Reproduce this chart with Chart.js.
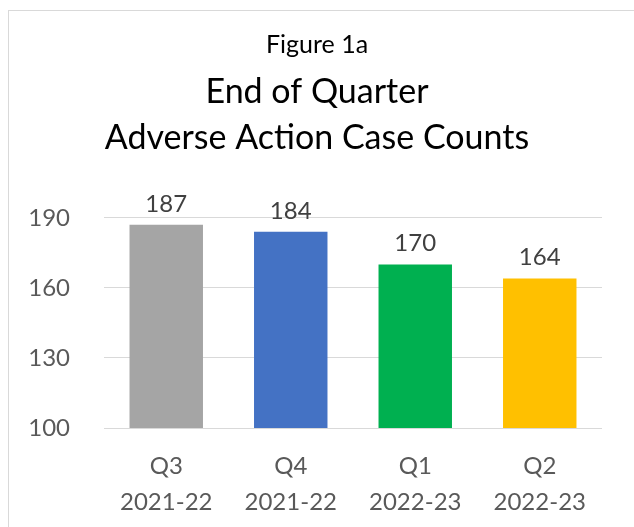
<!DOCTYPE html>
<html lang="en">
  <head>
    <meta charset="UTF-8" />
    <title>Figure 1a</title>
    <script src="https://cdn.jsdelivr.net/npm/chart.js@4.4.0/dist/chart.umd.min.js"></script>
    <style>
      body { margin: 0; background: #fff; }
      #wrap { position: relative; width: 634px; height: 527px; }
      #frame {
        position: absolute; left: 8px; top: 10px; width: 700px; height: 600px;
        border: 1px solid #d9d9d9; pointer-events: none;
      }
    </style>
  </head>
  <body>
    <div id="wrap">
      <canvas id="myChart" width="634" height="527"></canvas>
      <div id="frame"></div>
    </div>
    <script>
      const quarters = [["Q3", "2021-22"], ["Q4", "2021-22"], ["Q1", "2022-23"], ["Q2", "2022-23"]];
      const caseCounts = [187, 184, 170, 164];
      const barColors = ["#A5A5A5", "#4472C4", "#00B050", "#FFC000"];
      const yTicks = [100, 130, 160, 190];

      const FONT = "Lato, 'Open Sans', sans-serif";

      // value labels above each bar
      const barLabels = {
        id: "barLabels",
        afterDatasetsDraw(chart) {
          const c = chart.ctx;
          const meta = chart.getDatasetMeta(0);
          c.save();
          c.font = "24px " + FONT;
          c.fillStyle = "#404040";
          c.textAlign = "center";
          c.textBaseline = "bottom";
          meta.data.forEach((bar, i) => {
            c.fillText(caseCounts[i], bar.x, bar.y - 9);
          });
          c.restore();
        },
      };

      const ctx = document.getElementById("myChart").getContext("2d");
      const myChart = new Chart(ctx, {
        type: "bar",
        data: {
          labels: quarters,
          datasets: [
            {
              data: caseCounts,
              backgroundColor: barColors,
              borderWidth: 0,
              barPercentage: 0.59,
              categoryPercentage: 1,
            },
          ],
        },
        plugins: [barLabels],
        options: {
          responsive: false,
          animation: false,
          layout: { padding: { top: 30, right: 0, left: 0, bottom: 0 } },
          plugins: {
            legend: { display: false },
            tooltip: { enabled: false },
            title: {
              display: true,
              text: "Figure 1a",
              color: "#000",
              font: { family: FONT, size: 25, weight: "normal" },
              padding: { top: 0, bottom: 9 },
            },
            subtitle: {
              display: true,
              text: ["End of Quarter", "Adverse Action Case Counts"],
              color: "#000",
              font: { family: FONT, size: 34, weight: "normal", lineHeight: 1.35 },
              padding: { top: 0, bottom: 57 },
            },
          },
          scales: {
            x: {
              grid: { display: false, drawTicks: false },
              border: { display: false },
              ticks: {
                color: "#595959",
                font: { family: FONT, size: 24, lineHeight: 1.5 },
                padding: 20,
                maxRotation: 0,
              },
              afterFit(scale) { scale.height = 99; },
            },
            y: {
              min: 100,
              max: 190,
              grid: { color: "#d9d9d9", drawTicks: false },
              border: { display: false },
              afterBuildTicks(scale) {
                scale.ticks = yTicks.map((v) => ({ value: v }));
              },
              ticks: {
                color: "#595959",
                font: { family: FONT, size: 24 },
                padding: 34,
              },
              afterFit(scale) { scale.width = 104; },
            },
            // empty right axis just reserves the right margin
            yRight: {
              position: "right",
              grid: { display: false, drawTicks: false },
              border: { display: false },
              ticks: { display: false },
              afterFit(scale) { scale.width = 32; },
            },
          },
        },
      });
    </script>
  </body>
</html>
